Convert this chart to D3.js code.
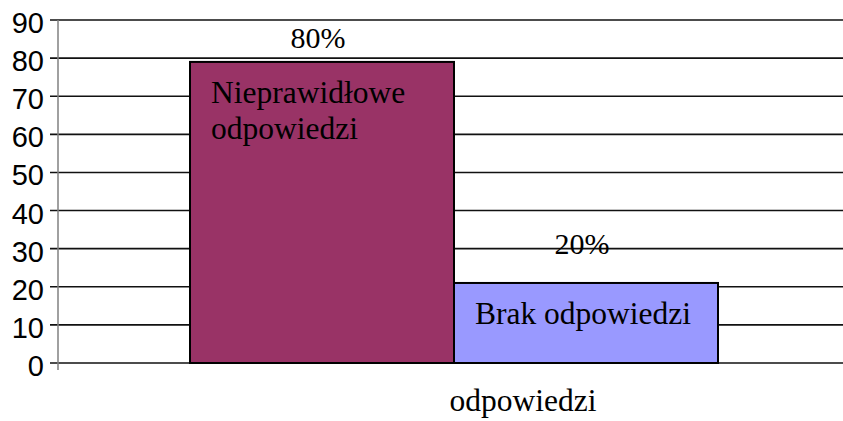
<!DOCTYPE html>
<html>
<head>
<meta charset="utf-8">
<script src="https://cdn.jsdelivr.net/npm/d3@7"></script>
<style>
  body { margin: 0; background: #fff; }
  svg { display: block; }
  .serif { font-family: "Liberation Serif", "DejaVu Serif", "Times New Roman", serif; }
  .sans { font-family: "Liberation Sans", Arial, sans-serif; }
</style>
</head>
<body>
<div id="container"></div>
<script>
// Data
const seriesNames = ["Nieprawidłowe odpowiedzi", "Brak odpowiedzi"];
const seriesValues = [79, 21];
const valueLabels = ["80%", "20%"];
const category = "odpowiedzi";
const yTicks = [0, 10, 20, 30, 40, 50, 60, 70, 80, 90];

// Chart dimensions
const width = 843;
const height = 421;
const axisX = 58;
const tickStart = 50;
const colors = ["#993366", "#9999ff"];
const labelGap = [14, 29]; // distance of value label above the bar top

const y = d3.scaleLinear()
    .domain([0, 90])
    .range([363, 20]);

const x = d3.scaleBand()
    .domain(seriesNames)
    .range([190, 718])
    .padding(0);

const svg = d3.select("#container")
    .append("svg")
    .attr("width", width)
    .attr("height", height);

// Gridlines + tick marks
svg.append("g")
    .selectAll("line")
    .data(yTicks)
    .join("line")
    .attr("x1", tickStart)
    .attr("x2", width)
    .attr("y1", d => y(d))
    .attr("y2", d => y(d))
    .attr("stroke", "#111")
    .attr("stroke-width", 1.6);

// Y tick labels
svg.append("g")
    .selectAll("text")
    .data(yTicks)
    .join("text")
    .attr("class", "sans")
    .attr("x", 44)
    .attr("y", d => y(d) + 13)
    .attr("text-anchor", "end")
    .attr("font-size", 29)
    .attr("fill", "#000")
    .text(d => d);

// Y axis line
svg.append("line")
    .attr("x1", axisX)
    .attr("x2", axisX)
    .attr("y1", y(90))
    .attr("y2", y(0) + 7)
    .attr("stroke", "#808080")
    .attr("stroke-width", 1.5);

// Bars
svg.append("g")
    .selectAll("rect")
    .data(seriesValues)
    .join("rect")
    .attr("x", (d, i) => x(seriesNames[i]))
    .attr("y", d => y(d))
    .attr("width", x.bandwidth())
    .attr("height", d => y(0) - y(d))
    .attr("fill", (d, i) => colors[i])
    .attr("stroke", "#000")
    .attr("stroke-width", 2);

// Value labels above bars
svg.append("g")
    .selectAll("text")
    .data(seriesValues)
    .join("text")
    .attr("class", "serif")
    .attr("x", (d, i) => x(seriesNames[i]) + x.bandwidth() / 2 - 4)
    .attr("y", (d, i) => y(d) - labelGap[i])
    .attr("text-anchor", "middle")
    .attr("font-size", 30)
    .text((d, i) => valueLabels[i]);

// Series names inside bars
const nameLines = [["Nieprawidłowe", "odpowiedzi"], ["Brak odpowiedzi"]];
seriesValues.forEach((v, i) => {
  const t = svg.append("text")
      .attr("class", "serif")
      .attr("font-size", 31.5)
      .attr("fill", "#000");
  nameLines[i].forEach((line, k) => {
    t.append("tspan")
        .attr("x", x(seriesNames[i]) + 21)
        .attr("y", y(v) + 41 + k * 36)
        .text(line);
  });
});

// Category label
svg.append("text")
    .attr("class", "serif")
    .attr("x", 523)
    .attr("y", 411)
    .attr("text-anchor", "middle")
    .attr("font-size", 31.5)
    .text(category);
</script>
</body>
</html>
